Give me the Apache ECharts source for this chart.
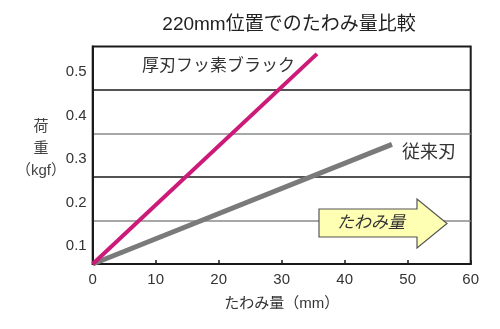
<!DOCTYPE html>
<html>
<head>
<meta charset="utf-8">
<style>
  html, body { margin: 0; padding: 0; background: #fff; }
  #chart { width: 500px; height: 329px; }
</style>
<script src="https://cdn.jsdelivr.net/npm/echarts@6/dist/echarts.min.js"></script>
</head>
<body>
<div id="chart"></div>
<script>
// ---- data ----
const chartTitle = '220mm位置でのたわみ量比較';
const xAxisName = 'たわみ量（mm）';
const yAxisName = '荷\n重\n（kgf）';
const seriesNames = ['厚刃フッ素ブラック', '従来刃'];
const fluoroDeflection = [0, 35.6];
const fluoroLoad = [0.05, 0.533];
const conventionalDeflection = [0, 47.5];
const conventionalLoad = [0.05, 0.325];
const xTickValues = [0, 10, 20, 30, 40, 50, 60];
const yTickLabels = ['0.1', '0.2', '0.3', '0.4', '0.5'];
const arrowText = 'たわみ量';

const FONT = '"Liberation Sans", "Noto Sans CJK JP", sans-serif';

const chart = echarts.init(document.getElementById('chart'), null, { renderer: 'canvas' });

const pairs = (xs, ys) => xs.map((x, i) => [x, ys[i]]);

const option = {
  animation: false,
  backgroundColor: '#fff',
  textStyle: { fontFamily: FONT },
  title: {
    text: chartTitle,
    left: 289,
    textAlign: 'center',
    top: 15,
    padding: 0,
    textStyle: { fontFamily: FONT, fontSize: 19, fontWeight: 'normal', color: '#222' }
  },
  grid: {
    left: 92.7, right: 29.3, top: 46.5, bottom: 65,
    show: true, borderColor: '#1a1a1a', borderWidth: 2, backgroundColor: 'transparent'
  },
  xAxis: {
    type: 'value',
    min: xTickValues[0],
    max: xTickValues[xTickValues.length - 1],
    interval: 10,
    name: xAxisName,
    nameLocation: 'middle',
    nameGap: 32,
    nameTextStyle: { fontFamily: FONT, fontSize: 15, color: '#333' },
    axisLine: { show: true, onZero: false, lineStyle: { color: '#1a1a1a', width: 2 } },
    axisTick: { show: true, inside: true, length: 4, lineStyle: { color: '#1a1a1a', width: 1.5 } },
    axisLabel: { fontFamily: FONT, fontSize: 15, color: '#333', margin: 8 },
    splitLine: { show: false }
  },
  yAxis: {
    type: 'value',
    min: 0.05,
    max: 0.55,
    interval: 0.05,
    axisLine: { show: true, onZero: false, lineStyle: { color: '#1a1a1a', width: 2 } },
    axisTick: { show: false },
    axisLabel: {
      fontFamily: FONT, fontSize: 15, color: '#333', margin: 6,
      verticalAlign: 'top', lineHeight: 8,
      formatter: function (v) {
        const s = (Math.round(v * 100) / 100).toFixed(1);
        if (Math.round(v * 100) % 10 === 0 && yTickLabels.indexOf(s) >= 0) return s;
        return '';
      }
    },
    splitLine: {
      show: true,
      showMinLine: false,
      showMaxLine: false,
      lineStyle: { width: 1.6, color: ['rgba(0,0,0,0)', '#8a8a8a', 'rgba(0,0,0,0)', '#1a1a1a'] }
    }
  },
  series: [
    {
      name: seriesNames[0],
      type: 'line',
      data: pairs(fluoroDeflection, fluoroLoad),
      symbol: 'none',
      lineStyle: { color: '#cc1a78', width: 4 },
      z: 5,
      markPoint: {
        symbol: 'circle', symbolSize: 0,
        data: [{ coord: [fluoroDeflection[1], fluoroLoad[1]] }],
        label: {
          show: true, position: 'left', distance: 5, offset: [-17, 12],
          formatter: seriesNames[0],
          fontFamily: FONT, fontSize: 17, color: '#333'
        }
      }
    },
    {
      name: seriesNames[1],
      type: 'line',
      data: pairs(conventionalDeflection, conventionalLoad),
      symbol: 'none',
      lineStyle: { color: '#7a7a7a', width: 5 },
      z: 4,
      markPoint: {
        symbol: 'circle', symbolSize: 0,
        data: [{ coord: [conventionalDeflection[1], conventionalLoad[1]] }],
        label: {
          show: true, position: 'right', distance: 5, offset: [5, 9],
          formatter: seriesNames[1],
          fontFamily: FONT, fontSize: 18, color: '#333'
        }
      }
    }
  ],
  graphic: [
    {
      type: 'text',
      x: 41, y: 116,
      style: {
        text: yAxisName,
        textAlign: 'center',
        fontFamily: FONT, fontSize: 15, lineHeight: 22, fill: '#444'
      }
    },
    {
      type: 'polygon',
      z: 10,
      shape: {
        points: [[319, 209], [417, 209], [417, 199], [447, 223.5], [417, 248], [417, 237], [319, 237]]
      },
      style: { fill: '#ffffb4', stroke: '#555', lineWidth: 1.2 }
    },
    {
      type: 'text',
      z: 11,
      x: 371, y: 223,
      style: {
        text: arrowText,
        textAlign: 'center', textVerticalAlign: 'middle',
        fontFamily: FONT, fontSize: 17, fontStyle: 'italic', fill: '#333'
      }
    }
  ]
};

chart.setOption(option);
</script>
</body>
</html>
